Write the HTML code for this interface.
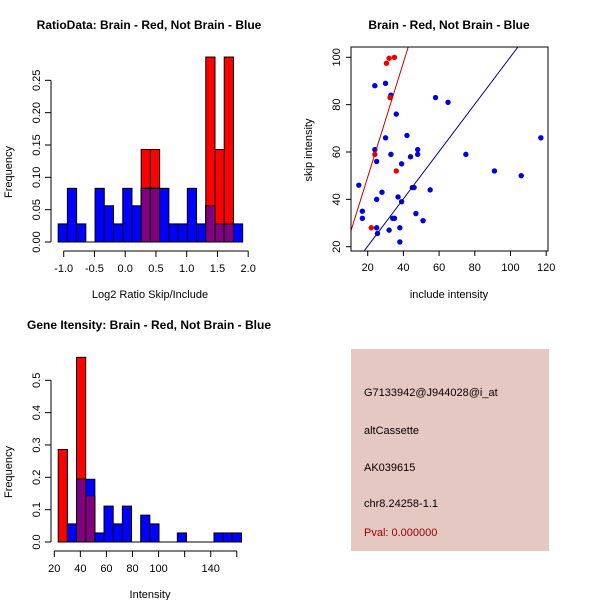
<!DOCTYPE html>
<html><head><meta charset="utf-8"><style>body{margin:0;background:#fff}svg{display:block;font-family:"Liberation Sans",sans-serif}</style></head>
<body>
<svg id="c" width="600" height="600" viewBox="0 0 600 600">
<rect width="600" height="600" fill="#fff"/>
<g id="p1"></g>
<g id="p2"></g>
<g id="p3"></g>
<g font-size="11">
<rect x="351" y="349" width="198" height="202" fill="#e6c8c2"/>
<text x="364" y="396">G7133942@J944028@i_at</text>
<text x="364" y="434">altCassette</text>
<text x="364" y="471">AK039615</text>
<text x="364" y="507">chr8.24258-1.1</text>
<text x="364" y="536" fill="#a00000">Pval: 0.000000</text>
</g>
</svg>
<script>
// Plot 1 data
const ratioBinStart = -1.09, ratioBinWidth = 0.15;
const ratioBlue = [0.028,0.083,0.028,0,0.083,0.056,0.028,0.083,0.056,0.083,0.083,0.083,0.028,0.028,0.083,0.028,0.056,0.028,0.028,0.028];
const ratioRed  = [0,0,0,0,0,0,0,0,0,0.143,0.143,0,0,0,0,0,0.286,0.143,0.286,0];
const ratioXTicks = [-1.0,-0.5,0.0,0.5,1.0,1.5,2.0];
const ratioYTicks = [0.00,0.05,0.10,0.15,0.20,0.25];
// Plot 2 data
const blueX = [24,30,33,36,58,65,42,30,117,24,33,44,48,48,75,25,39,91,106,15,55,45,46,28,37,25,39,17,17,34,35,47,51,25,25.5,32,38,38];
const blueY = [88,89,84,76,83,81,67,66,66,61,59,58,61,59,59,56,55,52,50,46,44,45,45,43,41,40,39,35,32,32,32,34,31,28,25.6,27,28,22];
const redX = [30.5,32,35,32.5,24,36,22];
const redY = [97.5,99.6,100,83,59,52,28];
const redFit = [2.42, 1]; // slope, intercept
const blueFit = [1.0, 0.2];
const scatXTicks = [20,40,60,80,100,120];
const scatYTicks = [20,40,60,80,100];
// Plot 3 data
const intBinStart = 23, intBinWidth = 7.03;
const intBlue = [0,0.056,0.194,0.194,0.028,0.111,0.056,0.111,0,0.083,0.056,0,0,0.028,0,0,0,0.028,0.028,0.028];
const intRed  = [0.286,0,0.571,0.143,0,0,0,0,0,0,0,0,0,0,0,0,0,0,0,0];
const intXTicks = [20,40,60,80,100,120,140,160];
const intXLabels = ["20","40","60","80","100","","140",""];
const intYTicks = [0.0,0.1,0.2,0.3,0.4,0.5];

const NS="http://www.w3.org/2000/svg";
function mk(p,t,a,txt){const e=document.createElementNS(NS,t);for(const k in a)e.setAttribute(k,a[k]);if(txt!==undefined)e.textContent=txt;p.appendChild(e);return e;}

function hist(g,o){
  const sx=v=>o.x0+(v-o.xa)*o.kx, sy=v=>o.y0-v*o.ky;
  mk(g,'text',{x:o.tx,y:o.ty,'font-size':12,'font-weight':'bold','text-anchor':'middle',},o.title);
  const n=o.blue.length;
  for(let i=0;i<n;i++){
    const a=sx(o.bs+i*o.bw), b=sx(o.bs+(i+1)*o.bw), w=b-a;
    const r=o.red[i], bl=o.blue[i], m=Math.min(r,bl);
    if(r>0){const e=mk(g,'rect',{x:a,y:sy(r),width:w,height:sy(0)-sy(r),fill:'#ff0000',stroke:'#000','stroke-width':1});
      
      }
    if(bl>0){const e=mk(g,'rect',{x:a,y:sy(bl),width:w,height:sy(0)-sy(bl),fill:'#0000ff',stroke:'#000','stroke-width':1});
      
      }
    if(m>0){const e=mk(g,'rect',{x:a,y:sy(m),width:w,height:sy(0)-sy(m),fill:'#800080',stroke:'#000','stroke-width':1});
      
      }
  }
  mk(g,'line',{x1:sx(o.bs),x2:sx(o.bs+n*o.bw),y1:sy(0),y2:sy(0),stroke:'#000'});
  // y axis
  const yt=o.yt;
  mk(g,'line',{x1:51,x2:51,y1:sy(yt[0]),y2:sy(yt[yt.length-1]),stroke:'#000',});
  yt.forEach(v=>{mk(g,'line',{x1:45,x2:51,y1:sy(v),y2:sy(v),stroke:'#000'});
    mk(g,'text',{x:0,y:0,transform:`translate(40,${sy(v)}) rotate(-90)`,'font-size':11,'text-anchor':'middle',},v.toFixed(o.yd));});
  const xt=o.xt, ay=o.y0+9;
  mk(g,'line',{x1:sx(xt[0]),x2:sx(xt[xt.length-1]),y1:ay,y2:ay,stroke:'#000',});
  xt.forEach((v,i)=>{mk(g,'line',{x1:sx(v),x2:sx(v),y1:ay,y2:ay+6,stroke:'#000'});
    const l=o.xl?o.xl[i]:v.toFixed(1); if(l) mk(g,'text',{x:sx(v),y:ay+21,'font-size':11,'text-anchor':'middle',},l);});
  mk(g,'text',{x:o.xlx,y:o.y0+56,'font-size':11,'text-anchor':'middle',},o.xlab);
  mk(g,'text',{x:0,y:0,transform:`translate(12,${o.y0-70}) rotate(-90)`,'font-size':11,'text-anchor':'middle',},'Frequency');
}
hist(document.getElementById('p1'),{x0:63.7,xa:-1,kx:61.5,y0:242,ky:646.7,bs:ratioBinStart,bw:ratioBinWidth,blue:ratioBlue,red:ratioRed,xt:ratioXTicks,yt:ratioYTicks,yd:2,title:'RatioData: Brain - Red, Not Brain - Blue',tx:149,ty:29,xlab:'Log2 Ratio Skip/Include',xlx:150});
hist(document.getElementById('p3'),{x0:54.3,xa:20,kx:1.3035,y0:542,ky:323.4,bs:intBinStart,bw:intBinWidth,blue:intBlue,red:intRed,xt:intXTicks,xl:intXLabels,yt:intYTicks,yd:1,title:'Gene Itensity: Brain - Red, Not Brain - Blue',tx:149,ty:329,xlab:'Intensity',xlx:150});

// scatter
(function(){
  const g=document.getElementById('p2');
  const L=351,R=548,T=47,B=251;
  const sx=v=>367.7+(v-20)*1.785, sy=v=>246.7-(v-20)*2.3675;
  mk(g,'text',{x:449,y:29,'font-size':12,'font-weight':'bold','text-anchor':'middle',},'Brain - Red, Not Brain - Blue');
  const d=mk(g,'defs',{});const cp=mk(d,'clipPath',{id:'clp'});mk(cp,'rect',{x:L,y:T,width:R-L,height:B-T});
  const cg=mk(g,'g',{'clip-path':'url(#clp)'});
  blueX.forEach((x,i)=>{const e=mk(cg,'circle',{cx:sx(x),cy:sy(blueY[i]),r:2.7,fill:'#0000dd'});
    
    });
  redX.forEach((x,i)=>{const e=mk(cg,'circle',{cx:sx(x),cy:sy(redY[i]),r:2.7,fill:'#ee0000'});
    
    });
  const xa=5,xb=130;
  mk(cg,'line',{x1:sx(xa),y1:sy(redFit[0]*xa+redFit[1]),x2:sx(xb),y2:sy(redFit[0]*xb+redFit[1]),stroke:'#cc0000',});
  mk(cg,'line',{x1:sx(xa),y1:sy(blueFit[0]*xa+blueFit[1]),x2:sx(xb),y2:sy(blueFit[0]*xb+blueFit[1]),stroke:'#000099',});
  mk(g,'rect',{x:L,y:T,width:R-L,height:B-T,fill:'none',stroke:'#000',});
  scatXTicks.forEach(v=>{mk(g,'line',{x1:sx(v),x2:sx(v),y1:B,y2:B+5,stroke:'#000'});
    mk(g,'text',{x:sx(v),y:B+20,'font-size':11,'text-anchor':'middle',},v);});
  scatYTicks.forEach(v=>{mk(g,'line',{x1:L-5,x2:L,y1:sy(v),y2:sy(v),stroke:'#000'});
    mk(g,'text',{x:0,y:0,transform:`translate(340,${sy(v)}) rotate(-90)`,'font-size':11,'text-anchor':'middle',},v);});
  mk(g,'text',{x:449,y:298,'font-size':11,'text-anchor':'middle',},'include intensity');
  mk(g,'text',{x:0,y:0,transform:'translate(312,150) rotate(-90)','font-size':11,'text-anchor':'middle',},'skip intensity');
})();
</script>
</body></html>
